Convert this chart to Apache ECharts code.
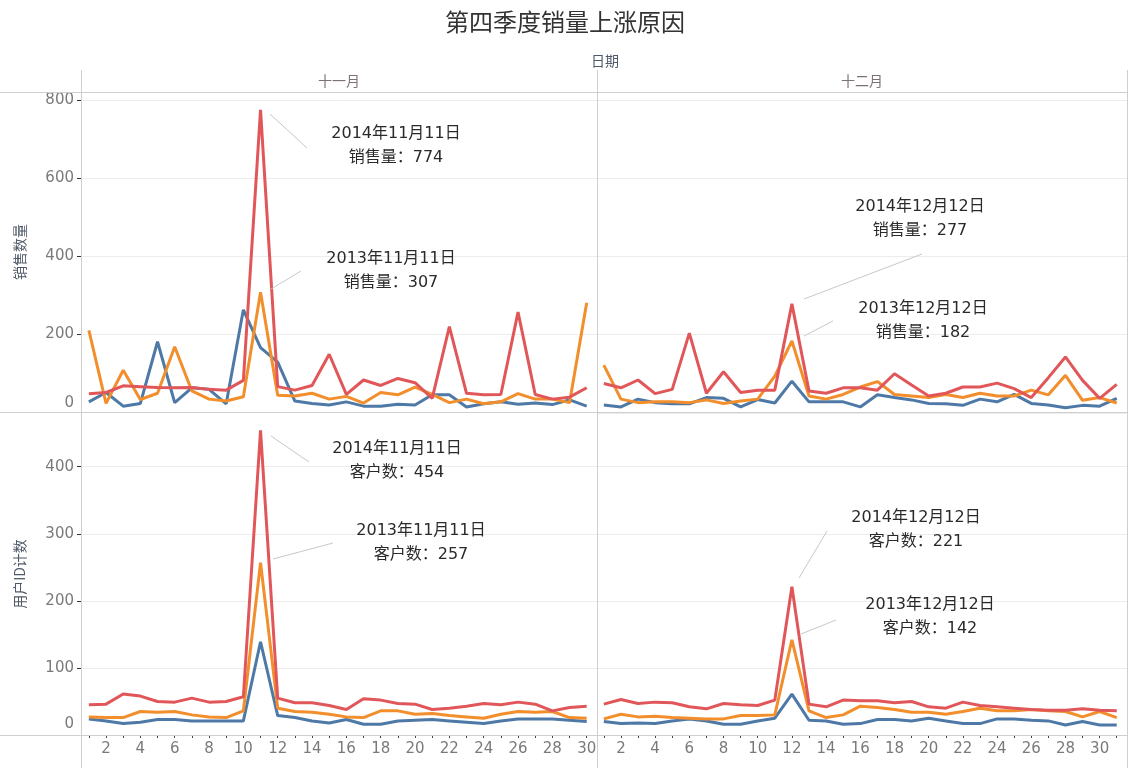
<!DOCTYPE html>
<html lang="zh">
<head>
    <meta charset="UTF-8">
    <title>第四季度销量上涨原因</title>
    <script src="https://cdn.jsdelivr.net/npm/echarts@6/dist/echarts.min.js"></script>
    <style>
        html, body { margin: 0; padding: 0; background: #fff; }
        #main { width: 1130px; height: 768px; }
    </style>
</head>
<body>
<div id="main"></div>
<script>
    // 日期
    var novDays = [1,2,3,4,5,6,7,8,9,10,11,12,13,14,15,16,17,18,19,20,21,22,23,24,25,26,27,28,29,30];
    var decDays = [1,2,3,4,5,6,7,8,9,10,11,12,13,14,15,16,17,18,19,20,21,22,23,24,25,26,27,28,29,30,31];
    var dayLabels = [2,4,6,8,10,12,14,16,18,20,22,24,26,28,30];
    var salesTicks = [0,200,400,600,800];
    var custTicks = [0,100,200,300,400];
    var years = ['2012', '2013', '2014'];

    // 销售数量 十一月
    var novSales2012 = [26,50,15,22,180,24,62,58,21,262,165,128,28,22,18,26,15,15,20,18,44,44,13,21,26,20,23,19,31,15];
    var novSales2013 = [209,22,107,32,48,167,54,33,28,39,307,43,41,48,33,40,23,50,44,64,45,24,33,21,26,47,33,33,24,280];
    var novSales2014 = [47,50,67,65,63,62,63,58,56,81,774,65,56,68,148,45,82,68,86,75,35,219,48,44,45,256,45,33,38,62];
    // 销售数量 十二月
    var decSales2012 = [18,13,33,24,21,21,37,35,13,32,23,79,26,26,26,13,44,37,31,22,21,17,33,26,45,22,18,11,17,15,35];
    var decSales2013 = [120,33,24,26,26,24,31,22,28,33,92,182,41,33,45,64,78,45,41,37,45,37,48,41,41,56,44,94,30,37,23];
    var decSales2014 = [73,62,82,47,58,202,48,103,50,56,56,277,54,48,62,62,56,98,69,41,48,64,64,74,60,37,88,141,81,35,71];
    // 用户ID计数 十一月
    var novCust2012 = [24,21,17,19,23,23,21,21,21,21,139,29,26,21,18,23,16,16,21,22,23,21,19,17,21,24,24,24,22,20];
    var novCust2013 = [27,26,26,35,34,35,30,27,26,36,257,40,35,34,31,27,26,36,36,31,32,29,27,25,31,35,34,35,26,25];
    var novCust2014 = [45,46,61,58,50,49,55,49,50,57,454,55,48,48,44,38,54,52,47,46,38,40,43,47,45,49,46,36,41,43];
    // 用户ID计数 十二月
    var decCust2012 = [20,17,18,17,21,24,21,16,16,21,25,61,22,21,16,17,23,23,21,25,21,17,17,24,24,22,21,15,20,15,15];
    var decCust2013 = [24,31,27,28,26,25,24,24,29,29,30,142,36,26,30,43,41,38,34,34,31,35,40,36,36,38,36,35,27,35,26];
    var decCust2014 = [46,53,47,49,48,42,39,47,45,44,52,221,46,42,52,51,51,48,50,42,40,49,44,42,40,38,37,37,39,37,36];

    var colors = ['#4e79a7', '#f28e2b', '#e15759'];
    var numFont = "'DejaVu Sans', 'Noto Sans CJK SC', sans-serif";
    var cjkFont = "'Noto Sans CJK SC', sans-serif";
    var frame = '#cfcfcf';

    var pair = function (days, vals) {
        return days.map(function (d, i) { return [d, vals[i]]; });
    };

    var series = [];
    var addPanel = function (idx, days, sets) {
        sets.forEach(function (vals, k) {
            series.push({
                name: years[k],
                type: 'line',
                xAxisIndex: idx,
                yAxisIndex: idx,
                symbol: 'none',
                silent: true,
                z: 2 + k,
                lineStyle: { color: colors[k], width: 3 },
                data: pair(days, vals)
            });
        });
    };
    addPanel(0, novDays, [novSales2012, novSales2013, novSales2014]);
    addPanel(1, decDays, [decSales2012, decSales2013, decSales2014]);
    addPanel(2, novDays, [novCust2012, novCust2013, novCust2014]);
    addPanel(3, decDays, [decCust2012, decCust2013, decCust2014]);

    var xAx = function (idx, max, bottom) {
        return {
            type: 'value', gridIndex: idx, min: 0.6, max: max,
            axisLine: { show: false },
            splitLine: { show: false },
            axisTick: bottom ? {
                show: true, length: 3, customValues: (max > 31 ? decDays : novDays),
                lineStyle: { color: '#444' }
            } : { show: false },
            axisLabel: bottom ? {
                show: true, customValues: dayLabels, margin: 7,
                fontSize: 15, color: '#7a7a7a', fontFamily: numFont
            } : { show: false }
        };
    };
    var yAx = function (idx, max, interval, ticks, name, zeroPad) {
        var left = (idx % 2 === 0);
        return {
            type: 'value', gridIndex: idx, min: 0, max: max, interval: interval,
            name: left ? name : '',
            nameLocation: 'middle', nameRotate: 90, nameGap: 55,
            nameTextStyle: { fontSize: 14, color: '#4f5966', fontFamily: cjkFont },
            axisLine: { show: false },
            splitLine: { show: true, lineStyle: { color: '#ececec', width: 1 } },
            axisTick: left ? { show: true, length: 5, customValues: ticks, lineStyle: { color: '#333' } } : { show: false },
            axisLabel: left ? {
                show: true, customValues: ticks, margin: 8,
                fontSize: 15, color: '#7a7a7a', fontFamily: numFont,
                formatter: function (v) { return v === 0 ? '{z|0}' : String(v); },
                rich: { z: { fontSize: 15, color: '#7a7a7a', fontFamily: numFont, padding: [0, 0, zeroPad, 0] } }
            } : { show: false }
        };
    };

    var hline = function (y, x1, x2) {
        return { type: 'line', silent: true, z: 10, shape: { x1: x1, y1: y, x2: x2, y2: y }, style: { stroke: frame, lineWidth: 1 } };
    };
    var vline = function (x, y1, y2) {
        return { type: 'line', silent: true, z: 10, shape: { x1: x, y1: y1, x2: x, y2: y2 }, style: { stroke: frame, lineWidth: 1 } };
    };
    var txt = function (x, y, s, size, color, font) {
        return { type: 'text', silent: true, z: 20, x: x, y: y,
            style: { text: s, fill: color, font: size + 'px ' + font, align: 'center', verticalAlign: 'middle', lineHeight: 24 } };
    };
    var lead = function (x1, y1, x2, y2) {
        return { type: 'line', silent: true, z: 15, shape: { x1: x1, y1: y1, x2: x2, y2: y2 }, style: { stroke: '#c8c8c8', lineWidth: 1 } };
    };

    var notes = [
        { x: 396, y: 146, t: '2014年11月11日\n销售量：774', l: [270, 114, 307, 148] },
        { x: 391, y: 271, t: '2013年11月11日\n销售量：307', l: [271, 289, 301, 271] },
        { x: 920, y: 219, t: '2014年12月12日\n销售量：277', l: [804, 299, 922, 254] },
        { x: 923, y: 321, t: '2013年12月12日\n销售量：182', l: [804, 336, 833, 321] },
        { x: 397, y: 461, t: '2014年11月11日\n客户数：454', l: [271, 436, 309, 462] },
        { x: 421, y: 543, t: '2013年11月11日\n客户数：257', l: [273, 559, 333, 543] },
        { x: 916, y: 530, t: '2014年12月12日\n客户数：221', l: [799, 578, 827, 531] },
        { x: 930, y: 617, t: '2013年12月12日\n客户数：142', l: [801, 634, 836, 620] }
    ];

    var graphics = [
        hline(92.5, 0, 1128), hline(412.5, 0, 1128), hline(735.5, 0, 1128),
        vline(81.5, 70, 768), vline(597.5, 70, 768), vline(1127.5, 70, 768),
        txt(605, 61, '日期', 14, '#4f5966', cjkFont),
        txt(339, 81, '十一月', 14, '#7d7178', cjkFont),
        txt(862, 81, '十二月', 14, '#7d7178', cjkFont)
    ];
    notes.forEach(function (n) {
        graphics.push(lead(n.l[0], n.l[1], n.l[2], n.l[3]));
        graphics.push(txt(n.x, n.y, n.t, 16, '#2a2a2a', numFont));
    });

    var myChart = echarts.init(document.getElementById('main'), null, { renderer: 'canvas' });
    var option = {
        backgroundColor: '#fff',
        animation: false,
        title: {
            text: '第四季度销量上涨原因',
            left: 'center', top: 5,
            textStyle: { fontSize: 24, fontWeight: 'normal', color: '#333', fontFamily: cjkFont }
        },
        grid: [
            { left: 82, top: 92, width: 515, height: 320 },
            { left: 597, top: 92, width: 530, height: 320 },
            { left: 82, top: 413, width: 515, height: 322 },
            { left: 597, top: 413, width: 530, height: 322 }
        ],
        xAxis: [xAx(0, 30.6, false), xAx(1, 31.6, false), xAx(2, 30.6, true), xAx(3, 31.6, true)],
        yAxis: [
            yAx(0, 820, 200, salesTicks, '销售数量', 18),
            yAx(1, 820, 200, salesTicks, '', 0),
            yAx(2, 480, 100, custTicks, '用户ID计数', 22),
            yAx(3, 480, 100, custTicks, '', 0)
        ],
        series: series,
        graphic: graphics
    };
    myChart.setOption(option);
</script>
</body>
</html>
